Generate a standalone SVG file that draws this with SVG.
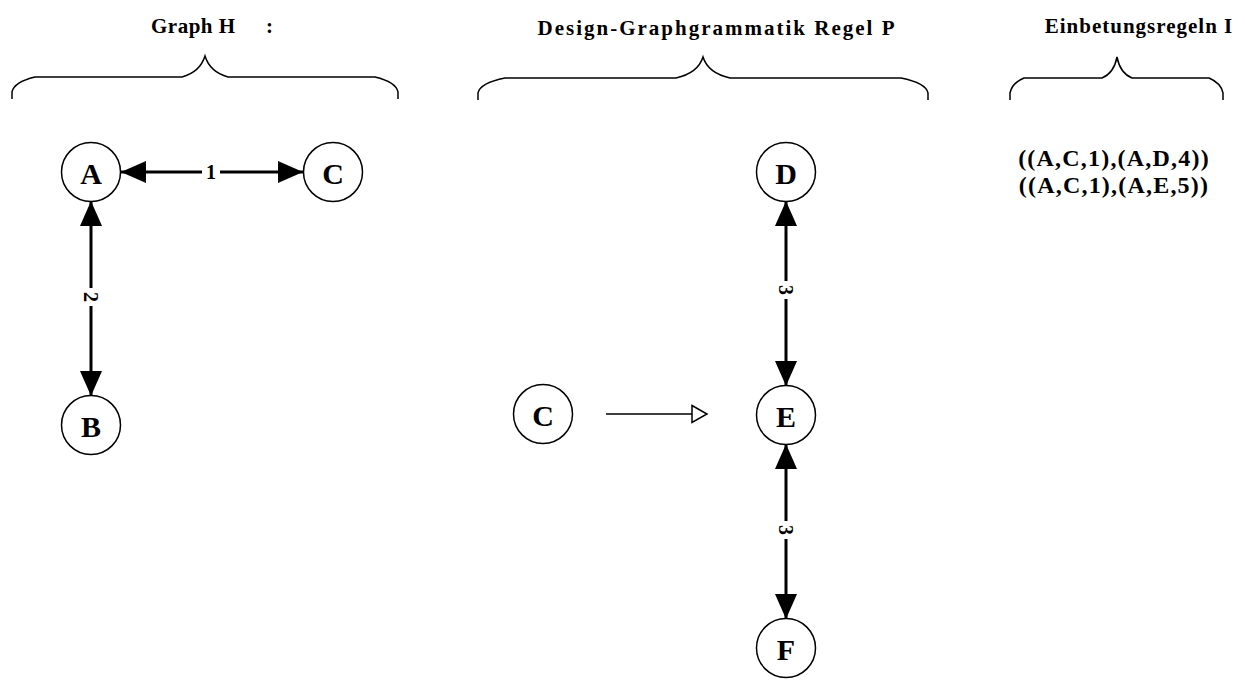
<svg xmlns="http://www.w3.org/2000/svg" width="1245" height="682" viewBox="0 0 1245 682">
<style>
.t{font-family:"Liberation Serif","Times New Roman",serif;font-weight:bold;fill:#000}
.title{font-size:21px}
.node circle{fill:#fff;stroke:#000;stroke-width:1.5}
.node text{font-family:"Liberation Serif","Times New Roman",serif;font-weight:bold;font-size:30px;text-anchor:middle;dominant-baseline:central}
.brace{fill:none;stroke:#000;stroke-width:1.5}
.edge{stroke:#000;stroke-width:3;marker-start:url(#ah);marker-end:url(#ah)}
.lbl{font-family:"Liberation Serif","Times New Roman",serif;font-weight:bold;font-size:20px;text-anchor:middle;dominant-baseline:central}
</style>
<defs>
<marker id="ah" markerUnits="userSpaceOnUse" markerWidth="26" markerHeight="22" refX="25" refY="11" orient="auto-start-reverse">
<path d="M0,0 L25,11 L0,22 z" fill="#000"/>
</marker>
<marker id="hollow" markerUnits="userSpaceOnUse" markerWidth="18" markerHeight="20" refX="1" refY="10" orient="auto">
<path d="M1,1.5 L16,10 L1,18.5 z" fill="#fff" stroke="#000" stroke-width="1.5"/>
</marker>
</defs>
<rect width="1245" height="682" fill="#fff"/>

<g id="titles">
<text class="t title" x="151" y="33" letter-spacing="0.5">Graph H</text>
<text class="t title" x="266" y="33" font-weight="normal">:</text>
<text class="t title" x="717" y="35" text-anchor="middle" letter-spacing="2">Design-Graphgrammatik Regel P</text>
<text class="t title" x="1139" y="33" text-anchor="middle" letter-spacing="1">Einbetungsregeln I</text>
</g>

<g id="braces">
<path class="brace" d="M12,99 L12,92 Q14,82 35,77 L182,77 Q200,72 205,56 Q210,72 228,77 L375,77 Q396,82 398,92 L398,99"/>
<path class="brace" d="M478,100 L478,93 Q480,83 505,78 L676,78 Q698,73 703,57 Q708,73 730,78 L901,78 Q926,83 928,93 L928,100"/>
<path class="brace" d="M1010,100 L1010,93 Q1012,83 1024,78 L1102,78 Q1114,73 1117,57 Q1120,73 1132,78 L1209,78 Q1221,83 1223,93 L1223,100"/>
</g>

<g id="connectors">
<line class="edge" x1="121" y1="172" x2="303" y2="172"/>
<line class="edge" x1="91" y1="201" x2="91" y2="396"/>
<line class="edge" x1="786" y1="201" x2="786" y2="386"/>
<line class="edge" x1="786" y1="444" x2="786" y2="619"/>
<line x1="606" y1="414" x2="692" y2="414" stroke="#000" stroke-width="1.5" marker-end="url(#hollow)"/>
<rect x="202" y="161" width="18" height="22" fill="#fff"/>
<text class="lbl" x="211" y="172">1</text>
<rect x="80" y="288" width="22" height="18" fill="#fff"/>
<text class="lbl" transform="translate(91,297) rotate(90)" x="0" y="0" font-weight="normal">2</text>
<rect x="775" y="281" width="22" height="18" fill="#fff"/>
<text class="lbl" transform="translate(786,290) rotate(90)" x="0" y="0" font-weight="normal">3</text>
<rect x="775" y="521" width="22" height="18" fill="#fff"/>
<text class="lbl" transform="translate(786,530) rotate(90)" x="0" y="0" font-weight="normal">3</text>
</g>

<g id="node-A" class="node"><circle cx="91" cy="172" r="29.5"/><text x="91" y="173">A</text></g>
<g id="node-C1" class="node"><circle cx="333" cy="172" r="29.5"/><text x="333" y="173">C</text></g>
<g id="node-B" class="node"><circle cx="91" cy="425" r="29.5"/><text x="91" y="426">B</text></g>
<g id="node-C2" class="node"><circle cx="543" cy="414" r="29.5"/><text x="543" y="415">C</text></g>
<g id="node-D" class="node"><circle cx="786" cy="172" r="29.5"/><text x="786" y="173">D</text></g>
<g id="node-E" class="node"><circle cx="786" cy="415" r="29.5"/><text x="786" y="416">E</text></g>
<g id="node-F" class="node"><circle cx="786" cy="648" r="29.5"/><text x="786" y="649">F</text></g>

<g id="embedding">
<text class="t" font-size="24" letter-spacing="1.2" x="1114" y="166" text-anchor="middle">((A,C,1),(A,D,4))</text>
<text class="t" font-size="24" letter-spacing="1.2" x="1114" y="193" text-anchor="middle">((A,C,1),(A,E,5))</text>
</g>
</svg>
